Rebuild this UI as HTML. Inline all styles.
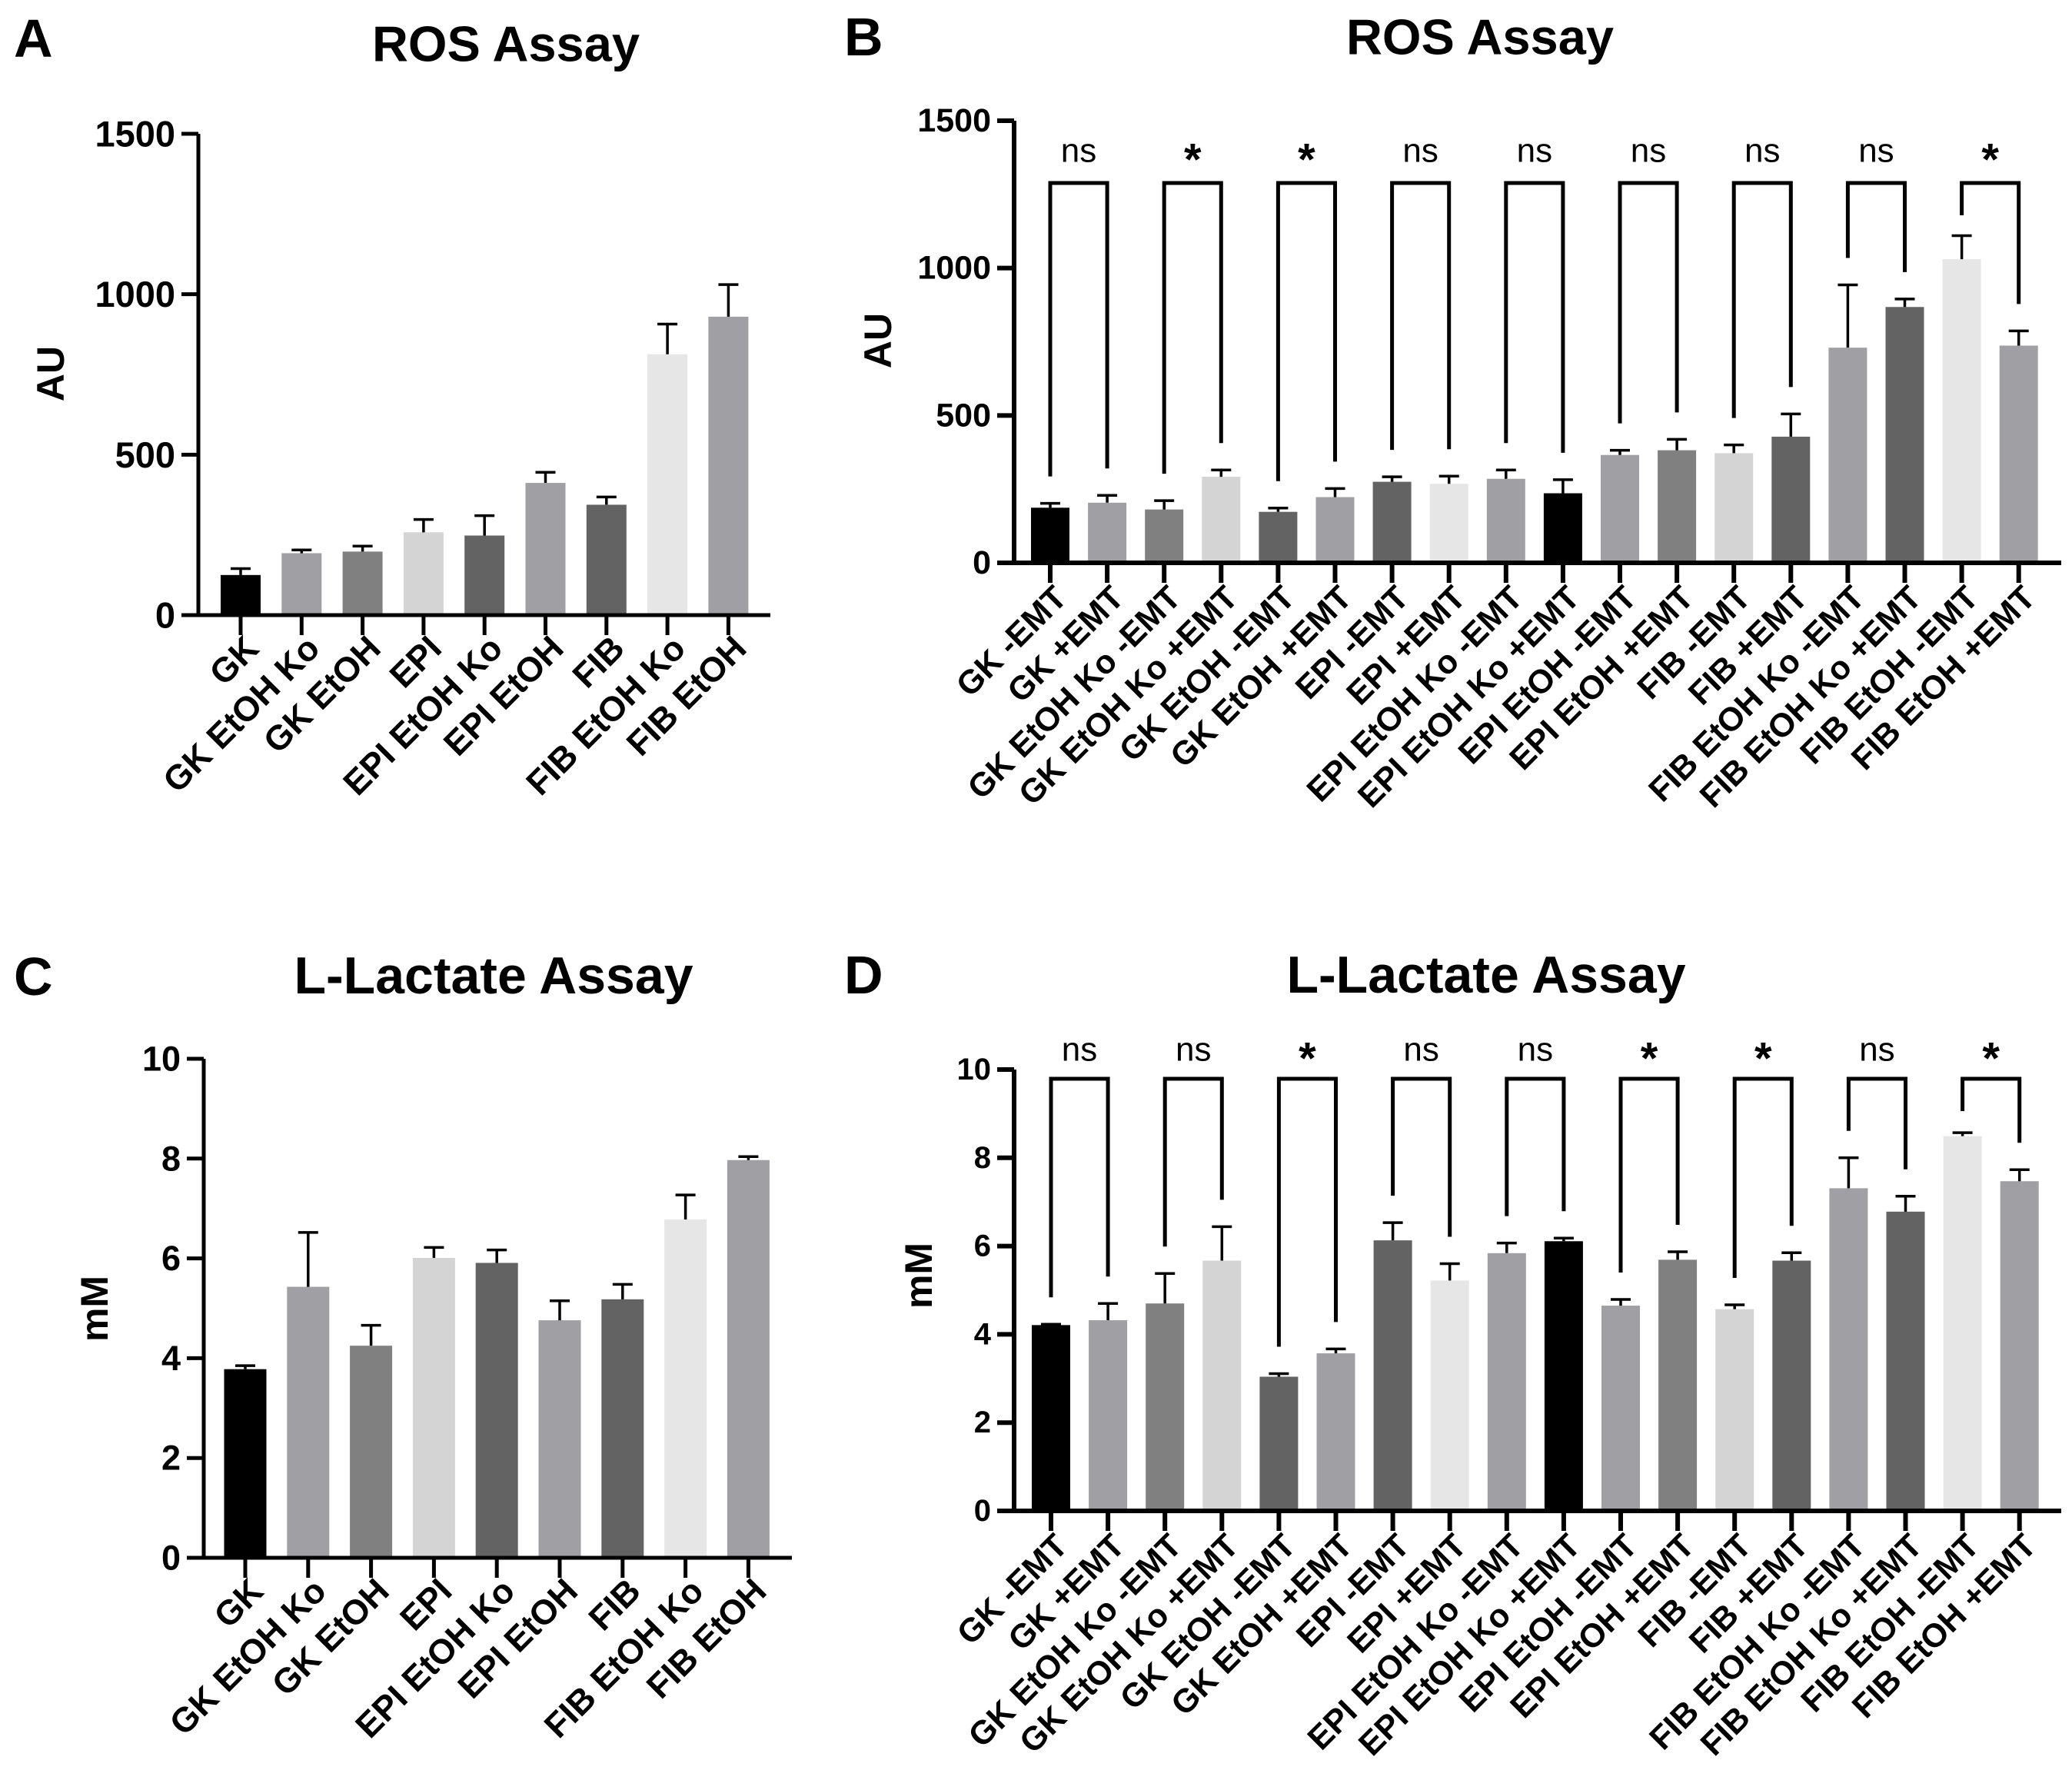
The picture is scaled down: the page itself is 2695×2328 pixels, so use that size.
<!DOCTYPE html>
<html><head><meta charset="utf-8">
<style>
html,body{margin:0;padding:0;background:#fff;}
svg{display:block;font-family:"Liberation Sans",Arial,sans-serif;}
</style></head>
<body>
<svg id="fig" width="2695" height="2328" viewBox="0 0 2695 2328" xmlns="http://www.w3.org/2000/svg"></svg>
<script>
// ---- Panel A data ----
const catsA = ["GK","GK EtOH Ko","GK EtOH","EPI","EPI EtOH Ko","EPI EtOH","FIB","FIB EtOH Ko","FIB EtOH"];
const valsA = [125,193,198,258,248,412,344,813,930];
const errA  = [20,10,17,40,62,33,24,94,100];
const ticksA = [0,500,1000,1500];
// ---- Panel B data ----
const catsB = ["GK -EMT","GK +EMT","GK EtOH Ko -EMT","GK EtOH Ko +EMT","GK EtOH -EMT","GK EtOH +EMT","EPI -EMT","EPI +EMT","EPI EtOH Ko -EMT","EPI EtOH Ko +EMT","EPI EtOH -EMT","EPI EtOH +EMT","FIB -EMT","FIB +EMT","FIB EtOH Ko -EMT","FIB EtOH Ko +EMT","FIB EtOH -EMT","FIB EtOH +EMT"];
const valsB = [187,204,181,292,173,223,275,268,285,236,366,382,372,428,730,868,1030,737];
const errB  = [15,25,30,23,13,29,17,26,30,46,16,37,28,77,213,27,80,50];
const sigB  = ["ns","*","*","ns","ns","ns","ns","ns","*"];
const ticksB = [0,500,1000,1500];
// ---- Panel C data ----
const catsC = catsA;
const valsC = [3.78,5.43,4.25,6.01,5.91,4.76,5.18,6.78,7.97];
const errC  = [0.07,1.09,0.41,0.21,0.26,0.39,0.30,0.49,0.07];
const ticksC = [0,2,4,6,8,10];
// ---- Panel D data ----
const catsD = catsB;
const valsD = [4.21,4.32,4.70,5.67,3.04,3.57,6.13,5.22,5.84,6.11,4.65,5.69,4.57,5.67,7.31,6.78,8.49,7.47];
const errD  = [0.02,0.38,0.68,0.77,0.07,0.10,0.40,0.38,0.23,0.07,0.14,0.18,0.10,0.18,0.69,0.35,0.08,0.26];
const sigD  = ["ns","ns","*","ns","ns","*","*","ns","*"];
const ticksD = [0,2,4,6,8,10];

const colors9 = ["#000000","#a0a0a4","#808080","#d4d4d4","#636363","#a0a0a4","#636363","#e6e6e6","#a0a0a4"];
const colors18 = ["#000000","#a0a0a4","#808080","#d4d4d4","#636363","#a0a0a4","#636363","#e6e6e6","#a0a0a4","#000000","#a0a0a4","#808080","#d4d4d4","#636363","#a0a0a4","#636363","#e6e6e6","#a0a0a4"];

const NS="http://www.w3.org/2000/svg";
const svg=document.getElementById('fig');
function mk(tag,attrs,parent,text){
  const e=document.createElementNS(NS,tag);
  for(const k in attrs) e.setAttribute(k,attrs[k]);
  if(text!==undefined) e.textContent=text;
  (parent||svg).appendChild(e);
  return e;
}

function panel(p){
  const g=mk('g',{});
  
  
  const y=v=>p.y0-(v/p.max)*(p.y0-p.yTop);
  const x=i=>p.c0+i*p.step;
  const L=mk('text',{x:p.letterX,y:p.letterY,'font-size':70,'font-weight':'bold','dominant-baseline':'central'},g,p.letter);
  
  
  const T=mk('text',{x:p.titleX,y:p.titleY,'font-size':p.titleFont,'font-weight':'bold','text-anchor':'middle','dominant-baseline':'central'},g,p.title);
  
  
  const YT=mk('text',{x:0,y:0,'font-size':50,'font-weight':'bold','text-anchor':'middle','dominant-baseline':'central',transform:`translate(${p.ytX},${p.ytY}) rotate(-90)`},g,p.ytitle);
  
  
  p.vals.forEach((v,i)=>{
    const r=mk('rect',{x:x(i)-p.bw/2,y:y(v),width:p.bw,height:p.y0-y(v),fill:p.colors[i]},g);
    
    
    const top=y(v+p.err[i]);
    const e=mk('path',{d:`M${x(i)} ${y(v)} V${top} M${x(i)-13} ${top} H${x(i)+13}`,stroke:'#000','stroke-width':3.5,fill:'none'},g);
    
    
  });
  const ax=mk('path',{d:`M${p.x0} ${p.yTop} V${p.y0} M${p.x0-p.aw/2} ${p.y0} H${p.xEnd}`,stroke:'#000','stroke-width':p.aw,fill:'none'},g);
  
  
  p.ticks.forEach(t=>{
    const ty=y(t);
    mk('line',{x1:p.x0-22,x2:p.x0,y1:ty,y2:ty,stroke:'#000','stroke-width':p.aw},g);
    const tl=mk('text',{x:p.x0-30,y:ty,'font-size':p.tickFont,'font-weight':'bold','text-anchor':'end','dominant-baseline':'central'},g,String(t));
    
    
  });
  p.cats.forEach((c,i)=>{
    mk('line',{x1:x(i),x2:x(i),y1:p.y0,y2:p.y0+26,stroke:'#000','stroke-width':p.aw},g);
    const xl=mk('text',{x:0,y:0,'font-size':p.labFont,'font-weight':'bold','text-anchor':'end',transform:`translate(${x(i)+p.ldx},${p.y0+p.ldy}) rotate(-45)`},g,c);
    
    
  });
  if(p.sig){
    p.sig.forEach((s,k)=>{
      const a=2*k,b=2*k+1;
      const la=Math.max(y(p.vals[a]+p.err[a])-35,p.brY+42);
      const lb=Math.max(y(p.vals[b]+p.err[b])-35,p.brY+42);
      const br=mk('path',{d:`M${x(a)} ${la} V${p.brY} H${x(b)} V${lb}`,stroke:'#000','stroke-width':5,fill:'none'},g);
      
      
      const st=mk('text',{x:(x(a)+x(b))/2,y:p.sigY+(s==='*'?12:0),'font-size':s==='*'?58:44,'font-weight':s==='*'?'bold':'normal','text-anchor':'middle','dominant-baseline':'central'},g,s);
      
      
    });
  }
}

panel({name:'panel-a',letter:'A',letterX:18,letterY:50,title:'ROS Assay',titleX:658,titleY:57,titleFont:65,ytitle:'AU',ytX:66,ytY:486,
  cats:catsA,vals:valsA,err:errA,ticks:ticksA,colors:colors9,max:1500,
  x0:258,xEnd:1002,yTop:174,y0:800,c0:313,step:79.3,bw:52,aw:5,tickFont:47,labFont:45,ldx:26,ldy:46});
panel({name:'panel-b',letter:'B',letterX:1098,letterY:48,title:'ROS Assay',titleX:1925,titleY:48,titleFont:65,ytitle:'AU',ytX:1142,ytY:443,
  cats:catsB,vals:valsB,err:errB,ticks:ticksB,colors:colors18,max:1500,
  x0:1319,xEnd:2681,yTop:157,y0:732,c0:1366,step:74.1,bw:50,aw:6,tickFont:43,labFont:43,ldx:24,ldy:48,
  sig:sigB,brY:238,sigY:196});
panel({name:'panel-c',letter:'C',letterX:18,letterY:1270,title:'L-Lactate Assay',titleX:642,titleY:1269,titleFont:68,ytitle:'mM',ytX:123,ytY:1702,
  cats:catsC,vals:valsC,err:errC,ticks:ticksC,colors:colors9,max:10,
  x0:265,xEnd:1030,yTop:1377,y0:2026,c0:319,step:81.8,bw:55,aw:5,tickFont:45,labFont:45,ldx:26,ldy:46});
panel({name:'panel-d',letter:'D',letterX:1098,letterY:1268,title:'L-Lactate Assay',titleX:1933,titleY:1268,titleFont:68,ytitle:'mM',ytX:1195,ytY:1659,
  cats:catsD,vals:valsD,err:errD,ticks:ticksD,colors:colors18,max:10,
  x0:1319,xEnd:2681,yTop:1391,y0:1965,c0:1367,step:74.1,bw:50,aw:6,tickFont:40,labFont:43,ldx:24,ldy:48,
  sig:sigD,brY:1403,sigY:1365});
</script>
</body></html>
